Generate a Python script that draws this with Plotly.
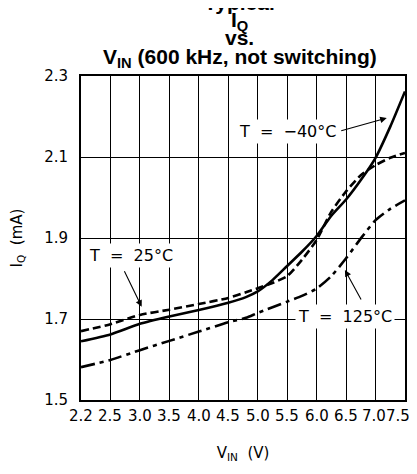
import numpy as np
import plotly.graph_objects as go

# ---- data ----
tick_vin = [2.2, 2.5, 3.0, 3.5, 4.0, 4.5, 5.0, 5.5, 6.0, 6.5, 7.0, 7.5]
tick_text = ["2.2", "2.5", "3.0", "3.5", "4.0", "4.5", "5.0", "5.5", "6.0", "6.5", "7.0", "7.5"]
y_ticks = [1.5, 1.7, 1.9, 2.1, 2.3]

vin_m40 = [2.2, 2.5, 3.0, 3.5, 4.0, 4.5, 4.8, 5.0, 5.25, 5.5, 5.75, 6.0, 6.25, 6.5, 6.75, 7.0, 7.25, 7.5]
iq_m40 = [1.645, 1.662, 1.688, 1.706, 1.722, 1.740, 1.754, 1.768, 1.796, 1.831, 1.866, 1.905, 1.955, 1.995, 2.043, 2.098, 2.175, 2.262]

vin_25 = [2.2, 2.5, 3.0, 3.5, 4.0, 4.5, 4.8, 5.0, 5.25, 5.5, 5.75, 6.0, 6.25, 6.5, 6.75, 7.0, 7.25, 7.5]
iq_25 = [1.670, 1.687, 1.710, 1.723, 1.737, 1.752, 1.766, 1.776, 1.789, 1.806, 1.846, 1.895, 1.965, 2.015, 2.055, 2.080, 2.098, 2.110]

vin_125 = [2.2, 2.5, 3.0, 3.5, 4.0, 4.5, 4.8, 5.0, 5.5, 5.75, 6.0, 6.25, 6.5, 6.75, 7.0, 7.25, 7.5]
iq_125 = [1.581, 1.599, 1.623, 1.646, 1.669, 1.692, 1.703, 1.715, 1.743, 1.757, 1.775, 1.806, 1.850, 1.899, 1.944, 1.972, 1.993]

tick_pos = list(range(len(tick_vin)))


def to_axis(v):
    return np.interp(v, tick_vin, tick_pos)


fig = go.Figure()
line_styles = [
    (vin_m40, iq_m40, "solid", "T = -40°C"),
    (vin_25, iq_25, "8px,4px", "T = 25°C"),
    (vin_125, iq_125, "14px,5px,4px,5px", "T = 125°C"),
]
for vx, vy, dash, name in line_styles:
    fig.add_trace(go.Scatter(
        x=to_axis(vx), y=vy, mode="lines", name=name,
        line=dict(color="black", width=2.6, dash=dash, shape="spline", smoothing=0.6),
        showlegend=False, hoverinfo="skip",
    ))

lab_font = dict(family="DejaVu Sans", size=16, color="black")

# label text boxes
labels = [
    ("T  =  \u221240°C", 7.00, 2.162),
    ("T  =  25°C", 1.70, 1.858),
    ("T  =  125°C", 8.96, 1.707),
]
for txt, x, y in labels:
    fig.add_annotation(x=x, y=y, xref="x", yref="y", text=txt, showarrow=False,
                       font=lab_font, bgcolor="white", borderpad=2)

# arrows (head point, tail offset in px)
arrows = [
    (10.38, 2.196, -47, 13),
    (2.06, 1.730, -18, -37),
    (8.96, 1.821, 17, 31),
]
for x, y, ax, ay in arrows:
    fig.add_annotation(x=x, y=y, xref="x", yref="y", text="", showarrow=True,
                       ax=ax, ay=ay, arrowhead=2, arrowsize=1.2, arrowwidth=1.1,
                       arrowcolor="black", standoff=0)

# title lines
tfont = dict(family="Liberation Sans", size=21, color="black")
title_lines = [
    ("<b>Typical</b>", 1.228),
    ("<b>I<sub>Q</sub></b>", 1.170),
    ("<b>vs.</b>", 1.120),
    ("<b>V<sub>IN</sub> (600 kHz, not switching)</b>", 1.055),
]
for txt, y in title_lines:
    fig.add_annotation(x=0.49, y=y, xref="paper", yref="paper", text=txt,
                       showarrow=False, font=tfont, xanchor="center", yanchor="middle")

axis_font = dict(family="DejaVu Sans", size=15, color="black")

# x tick labels as text placed at the axis tick positions
n_ticks = len(tick_pos)
for i, (pos, txt) in enumerate(zip(tick_pos, tick_text)):
    shift = -7 if i == n_ticks - 1 else (-2 if i == n_ticks - 2 else 0)
    fig.add_annotation(x=pos, y=0, xref="x", yref="paper", text=txt, showarrow=False,
                       font=axis_font, xanchor="center", yanchor="middle",
                       yshift=-16, xshift=shift, borderpad=0)

fig.update_layout(
    width=401, height=458,
    margin=dict(l=73, r=4, t=68, b=66),
    paper_bgcolor="white", plot_bgcolor="white",
    xaxis=dict(range=[0, 11], tickvals=tick_pos, ticktext=tick_text,
               showgrid=True, gridcolor="black", gridwidth=1,
               showline=True, linecolor="black", linewidth=2, mirror=True,
               zeroline=False, ticks="", showticklabels=False, automargin=False,
               title=dict(text="V<sub>IN</sub>  (V)", font=axis_font, standoff=46)),
    yaxis=dict(range=[1.5, 2.3], tickvals=y_ticks, ticktext=[f"{v:.1f}" for v in y_ticks],
               showgrid=True, gridcolor="black", gridwidth=1,
               showline=True, linecolor="black", linewidth=2, mirror=True,
               zeroline=False, ticks="", tickfont=axis_font, automargin=False,
               ticklabelstandoff=8,
               title=dict(text="I<sub>Q</sub>  (mA)", font=axis_font, standoff=24)),
)

fig.write_html("out.html")
